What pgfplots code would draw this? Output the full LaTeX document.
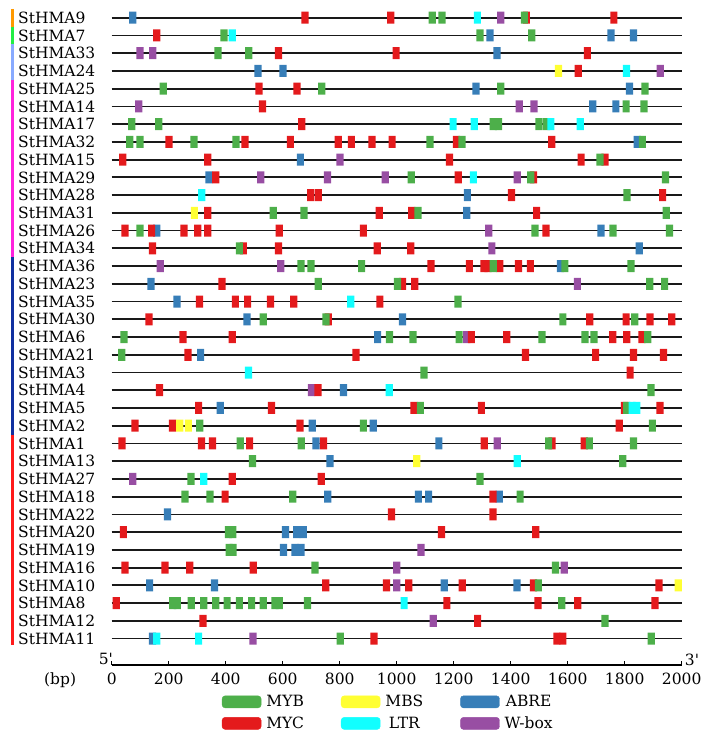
\documentclass[border=0pt]{standalone}
\usepackage{fontspec}
\setmainfont{DejaVu Serif}
\usepackage{pgfplots}
\usepackage{pgfplotstable}
\pgfplotsset{compat=1.18}

\definecolor{cMYB}{HTML}{4DAF4A}
\definecolor{cMYC}{HTML}{E41A1C}
\definecolor{cABRE}{HTML}{377EB8}
\definecolor{cWbox}{HTML}{984EA3}
\definecolor{cMBS}{HTML}{FFFF33}
\definecolor{cLTR}{HTML}{11FFFF}
\definecolor{gOrange}{HTML}{FF9900}
\definecolor{gGreen}{HTML}{22EE44}
\definecolor{gLBlue}{HTML}{88AAFF}
\definecolor{gMag}{HTML}{FF22DD}
\definecolor{gDBlue}{HTML}{1030A0}
\definecolor{gRed}{HTML}{FF1A1A}

\pgfdeclareplotmark{motif}{%
  \pgfsetcornersarced{\pgfpoint{2pt}{2pt}}%
  \pgfpathmoveto{\pgfqpoint{0pt}{-6pt}}%
  \pgfpathlineto{\pgfqpoint{3.6pt}{-6pt}}%
  \pgfpathlineto{\pgfqpoint{3.6pt}{6pt}}%
  \pgfpathlineto{\pgfqpoint{-3.6pt}{6pt}}%
  \pgfpathlineto{\pgfqpoint{-3.6pt}{-6pt}}%
  \pgfpathclose
  \pgfusepathqfill}

% x = position (bp), y = row (1 = StHMA9 at top)
\pgfplotstableread{
x y
1125 1
1159 1
1448 1
394 2
1292 2
1474 2
373 3
481 3
181 5
737 5
1365 5
1871 5
1805 6
1868 6
70 7
165 7
1339 7
1357 7
1499 7
1526 7
63 8
99 8
289 8
436 8
1117 8
1229 8
1862 8
1713 9
1051 10
1470 10
1943 10
1808 11
567 12
675 12
1075 12
1946 12
99 13
1485 13
1759 13
1957 13
448 14
664 15
699 15
877 15
1339 15
1590 15
1822 15
725 16
1003 16
1888 16
1940 16
1215 17
532 18
752 18
1583 18
1835 18
43 19
975 19
1057 19
1219 19
1510 19
1661 19
1692 19
1881 19
35 20
1096 21
1892 22
1083 23
1807 23
309 24
883 24
1897 24
451 25
665 25
1533 25
1676 25
1831 25
494 26
1793 26
278 27
1292 27
257 28
345 28
635 28
1433 28
410 30
425 30
412 31
426 31
713 32
1557 32
1497 33
214 34
230 34
279 34
323 34
365 34
405 34
448 34
491 34
532 34
573 34
588 34
687 34
1579 34
1731 35
802 36
1893 36
}\tMYB

\pgfplotstableread{
x y
678 1
979 1
1455 1
1762 1
158 2
585 3
998 3
1669 3
1637 4
517 5
650 5
529 6
667 7
201 8
468 8
627 8
795 8
841 8
913 8
984 8
1210 8
1544 8
39 9
337 9
1185 9
1647 9
1731 9
365 10
1216 10
1480 10
698 11
725 11
1403 11
1933 11
337 12
939 12
1053 12
1491 12
47 13
140 13
254 13
302 13
337 13
588 13
883 13
1524 13
143 14
462 14
585 14
932 14
1049 14
1120 15
1255 15
1306 15
1320 15
1362 15
1427 15
1469 15
387 16
1020 16
1063 16
308 17
434 17
477 17
557 17
639 17
941 17
131 18
760 18
1677 18
1805 18
1889 18
1965 18
250 19
423 19
1262 19
1386 19
1758 19
1807 19
1861 19
268 20
857 20
1452 20
1698 20
1831 20
1936 20
1819 21
168 22
724 22
305 23
561 23
1061 23
1297 23
1799 23
1924 23
82 24
213 24
661 24
1781 24
36 25
315 25
354 25
484 25
743 25
1307 25
1545 25
1658 25
423 27
735 27
398 28
1338 28
982 29
1338 29
41 30
1157 30
1488 30
47 32
187 32
274 32
497 32
751 33
964 33
1042 33
1230 33
1480 33
1920 33
16 34
1176 34
1496 34
1635 34
1906 34
320 35
1284 35
920 36
1562 36
1583 36
}\tMYC

\pgfplotstableread{
x y
74 1
1327 2
1752 2
1831 2
1352 3
513 4
601 4
1278 5
1817 5
1688 6
1769 6
1844 8
662 9
341 10
1248 11
1246 12
158 13
1717 13
1851 14
1575 15
138 16
229 17
475 18
1020 18
933 19
312 20
813 22
381 23
704 24
918 24
717 25
1148 25
766 26
758 28
1076 28
1112 28
1360 28
196 29
610 30
649 30
672 30
603 31
643 31
664 31
133 33
361 33
1167 33
1422 33
143 36
}\tABRE

\pgfplotstableread{
x y
1568 4
290 12
239 24
269 24
1070 26
1988 33
}\tMBS

\pgfplotstableread{
x y
1283 1
423 2
1806 4
1198 7
1272 7
1541 7
1644 7
1269 10
316 11
839 17
480 21
974 22
1826 23
1842 23
1423 26
323 27
1026 34
158 36
305 36
}\tLTR

\pgfplotstableread{
x y
1365 1
99 3
144 3
1925 4
95 6
1430 6
1482 6
801 9
523 10
757 10
960 10
1423 10
1323 13
1334 14
170 15
593 15
1634 16
1246 19
701 22
1353 25
74 27
1085 31
1000 32
1588 32
1000 33
1128 35
496 36
}\tWbox

\begin{document}
\begin{tikzpicture}[font=\fontsize{15.5}{18}\selectfont]
\begin{axis}[name=ax,
  scale only axis, width=570pt, height=665pt,
  xmin=0, xmax=2000, ymin=0, ymax=37.49, y dir=reverse,
  clip=false,
  axis x line*=bottom, axis y line*=left,
  x axis line style={line width=1.3pt, black},
  y axis line style={draw=none},
  tick align=inside, major tick length=4pt,
  xtick style={draw=black, line width=1pt},
  ytick style={draw=none},
  xtick={0,200,...,2000},
  xticklabels={0,200,400,600,800,1000,1200,1400,1600,1800,2000},
  xticklabel style={anchor=north, inner sep=0pt, yshift=-8pt},
  ytick={1,...,36},
  yticklabels={StHMA9,StHMA7,StHMA33,StHMA24,StHMA25,StHMA14,StHMA17,StHMA32,StHMA15,StHMA29,StHMA28,StHMA31,StHMA26,StHMA34,StHMA36,StHMA23,StHMA35,StHMA30,StHMA6,StHMA21,StHMA3,StHMA4,StHMA5,StHMA2,StHMA1,StHMA13,StHMA27,StHMA18,StHMA22,StHMA20,StHMA19,StHMA16,StHMA10,StHMA8,StHMA12,StHMA11},
  yticklabel style={anchor=west, inner sep=0pt, xshift=-93.7pt},
  legend columns=3,
  legend style={at={(axis description cs:0.193,-0.039)}, anchor=north west,
    draw=none, fill=none, inner sep=0pt, row sep=0pt,
    nodes={inner xsep=5pt, inner ysep=4.2pt},
    /tikz/every even column/.append style={column sep=32pt}},
]
% gene lines
\pgfplotsinvokeforeach{1,...,36}{
  \addplot[forget plot, line width=1.8pt, black!90] coordinates {(0,#1) (2000,#1)};
}
% group bars
\addplot[forget plot, gOrange, line width=3pt] coordinates {(-347,0.5) (-347,1.5)};
\addplot[forget plot, gGreen, line width=3pt] coordinates {(-347,1.5) (-347,2.5)};
\addplot[forget plot, gLBlue, line width=3pt] coordinates {(-347,2.5) (-347,4.5)};
\addplot[forget plot, gMag, line width=3pt] coordinates {(-347,4.5) (-347,14.5)};
\addplot[forget plot, gDBlue, line width=3pt] coordinates {(-347,14.5) (-347,24.5)};
\addplot[forget plot, gRed, line width=3pt] coordinates {(-347,24.5) (-347,36.36)};
% motifs
\addplot[forget plot, only marks, mark=motif, color=cWbox] table {\tWbox};
\addplot[forget plot, only marks, mark=motif, color=cABRE] table {\tABRE};
\addplot[forget plot, only marks, mark=motif, color=cMYC] table {\tMYC};
\addplot[forget plot, only marks, mark=motif, color=cMYB] table {\tMYB};
\addplot[forget plot, only marks, mark=motif, color=cLTR] table {\tLTR};
\addplot[forget plot, only marks, mark=motif, color=cMBS] table {\tMBS};
% legend
\addlegendimage{legend image code/.code={\fill[cMYB, rounded corners=3pt] (0pt,-6pt) rectangle (39pt,6pt);}}
\addlegendentry{MYB}
\addlegendimage{legend image code/.code={\fill[cMBS, rounded corners=3pt] (0pt,-6pt) rectangle (39pt,6pt);}}
\addlegendentry{MBS}
\addlegendimage{legend image code/.code={\fill[cABRE, rounded corners=3pt] (0pt,-6pt) rectangle (39pt,6pt);}}
\addlegendentry{ABRE}
\addlegendimage{legend image code/.code={\fill[cMYC, rounded corners=3pt] (0pt,-6pt) rectangle (39pt,6pt);}}
\addlegendentry{MYC}
\addlegendimage{legend image code/.code={\fill[cLTR, rounded corners=3pt] (0pt,-6pt) rectangle (39pt,6pt);}}
\addlegendentry{LTR}
\addlegendimage{legend image code/.code={\fill[cWbox, rounded corners=3pt] (0pt,-6pt) rectangle (39pt,6pt);}}
\addlegendentry{W-box}
% end labels
\node[anchor=base east, inner sep=0pt, xshift=1.5pt, yshift=1pt] at (axis cs:0,37.49) {5\textquotesingle};
\node[anchor=base west, inner sep=0pt, xshift=3pt, yshift=0pt] at (axis cs:2000,37.49) {3\textquotesingle};
\node[anchor=base, inner sep=0pt, yshift=-19pt] at (axis cs:-181,37.49) {(bp)};
\end{axis}
\pgfresetboundingbox
\path[use as bounding box] ([xshift=-111.7pt,yshift=-73pt]ax.south west) rectangle ([xshift=28.3pt]ax.north east);
\end{tikzpicture}
\end{document}
